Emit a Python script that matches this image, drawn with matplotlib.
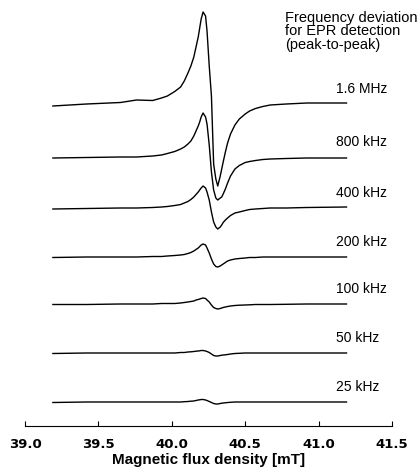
import numpy as np
import matplotlib
matplotlib.use("Agg")
import matplotlib.pyplot as plt

# field positions (mT) where the traces were read
field = [39.19, 39.42, 39.65, 39.76, 39.87, 39.93, 39.97, 40.02, 40.06, 40.085,
         40.11, 40.13, 40.15, 40.165, 40.18, 40.19, 40.20, 40.213, 40.23, 40.24,
         40.255, 40.27, 40.285, 40.30, 40.313, 40.33, 40.34, 40.35, 40.365, 40.38,
         40.40, 40.43, 40.46, 40.50, 40.53, 40.57, 40.62, 40.67, 40.78, 40.92, 41.19]

# EPR signal (arb. units) for each frequency deviation
sig_1600k = [-2, 0, 1.5, 4, 3.5, 6, 8, 12.5, 17, 23,
             31, 38, 47, 57, 67, 76, 85, 92, 88, 73,
             38, 8, -60, -75, -82, -72, -65, -58, -48, -39,
             -30, -21, -15, -10, -7, -4.5, -2.5, -1, 0, 1, 1]
sig_800k = [-1, -0.5, 0, 0, 1, 2, 3.5, 5.5, 8, 10,
            13, 16, 21, 26, 31, 35, 40, 44, 40, 33,
            12, -15, -33, -41, -43, -41, -40, -37, -32, -26,
            -19, -12, -8.5, -5.5, -4.5, -3.5, -2.5, -2, -1.5, -1, -1]
sig_400k = [-1, -0.5, 0, 0, 0.5, 1, 1.5, 2.5, 3.5, 5,
            6.5, 8.5, 11, 13.5, 16, 18, 20, 22, 20, 16,
            8, -4, -14, -19, -21, -19, -17, -14.5, -12, -10,
            -7.5, -5, -4, -2.5, -1.5, -1, -0.5, 0, 0, 0.5, 1]
sig_200k = [-0.5, 0, 0, 0, 0.5, 0.5, 1, 1.5, 2, 2.5,
            3.5, 4.5, 6, 7.5, 9, 10.5, 12, 13, 12, 9,
            4, -2, -7, -9.5, -10, -9, -8, -7, -5.5, -4,
            -3, -2, -1.5, -1, -0.5, -0.5, 0, 0, 0, 0, 0]
sig_100k = [-0.5, -0.5, 0, 0, 0, 0.5, 0.5, 0.5, 1, 1.5,
            2, 2.5, 3, 4, 4.5, 5, 5.5, 6, 5.5, 4,
            2, -1, -3.5, -4.5, -5, -4.5, -4, -3.5, -3, -2.5,
            -2, -1.5, -1.2, -1, -0.8, -0.5, -0.5, -0.5, -0.3, 0, 0]
sig_50k = [-0.5, 0, 0, 0, 0, 0, 0, 0, 0.5, 0.5,
           1, 1.2, 1.5, 1.8, 2, 2.2, 2.5, 2.5, 2, 1.5,
           0.5, -1, -2.5, -3, -3, -2.5, -2.2, -2, -1.8, -1.5,
           -1, -0.5, -0.3, 0, 0, 0, 0, 0, 0, 0, 0]
sig_25k = [-0.5, 0, 0, 0, 0, 0, 0, 0, 0, 0.3,
           0.5, 0.8, 1, 1.5, 2, 2.2, 2.5, 2.5, 2, 1.5,
           0.5, -0.5, -1.5, -2, -2, -1.5, -1.2, -1, -0.8, -0.5,
           -0.3, 0, 0, 0, 0, 0, 0, 0, 0, 0, 0]

labels = ["1.6 MHz", "800 kHz", "400 kHz", "200 kHz", "100 kHz", "50 kHz", "25 kHz"]
signals = [sig_1600k, sig_800k, sig_400k, sig_200k, sig_100k, sig_50k, sig_25k]

ticks = [39.0, 39.5, 40.0, 40.5, 41.0, 41.5]

# vertical stacking of the traces (top to bottom)
offsets = [104, 157, 208, 257, 304, 353, 402]

fig = plt.figure(figsize=(4.19, 4.75), dpi=100)
ax = fig.add_axes([25 / 419, 49 / 475, 367 / 419, 426 / 475])
ax.set_xlim(39.0, 41.5)
ax.set_ylim(426, 0)

for sig, off, lab in zip(signals, offsets, labels):
    ax.plot(field, off - np.array(sig), color="black", lw=1.0,
            solid_joinstyle="round")
    ax.text(41.12, off - 15, lab, ha="left", va="center",
            fontsize=10, family="Liberation Sans")

ax.text(40.77, 11, "Frequency deviation\nfor EPR detection\n(peak-to-peak)",
        ha="left", va="top", fontsize=10.5, family="Liberation Sans", linespacing=0.95)

for s in ["top", "left", "right"]:
    ax.spines[s].set_visible(False)
ax.spines["bottom"].set_linewidth(0.8)
ax.set_yticks([])
ax.set_xticks(ticks)
ax.set_xticklabels([f"{t:.1f}" for t in ticks], fontweight="bold", fontsize=9.5)
ax.tick_params(axis="x", direction="in", length=3.6, width=0.8, pad=9)
ax.set_xlabel("Magnetic flux density [mT]", fontweight="bold", fontsize=11,
              family="Liberation Sans", labelpad=1)

fig.savefig("out.png", dpi=100)
